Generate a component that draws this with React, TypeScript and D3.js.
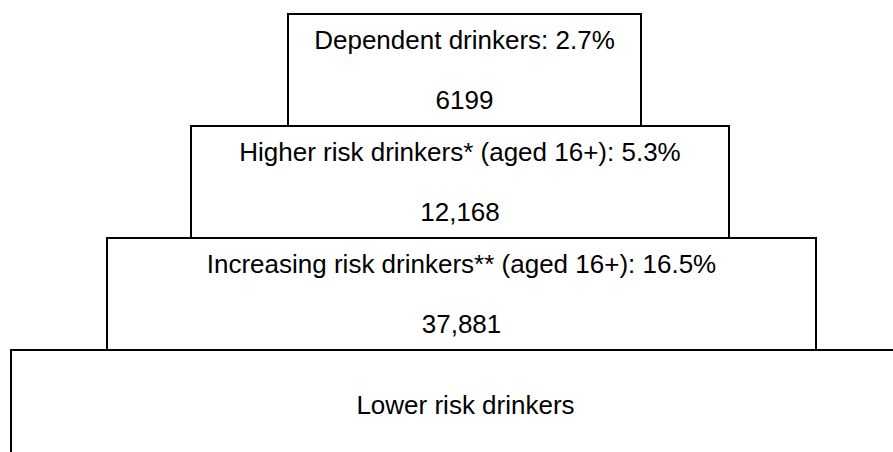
import React from "react";
import * as d3 from "d3";

const tiers = ["Dependent drinkers", "Higher risk drinkers* (aged 16+)", "Increasing risk drinkers** (aged 16+)", "Lower risk drinkers"];
const percents: (number | null)[] = [2.7, 5.3, 16.5, null];
const counts: (string | null)[] = ["6199", "12,168", "37,881", null];

// layout (pixels)
const boxLeft = [288, 191, 107, 11];
const boxRight = [641, 729, 816, 920];

export default function App() {
  const W = 893, H = 452;
  const y = d3.scaleBand<number>().domain(d3.range(tiers.length)).range([14, 14 + 112 * 4]).paddingInner(0);
  const bw = y.bandwidth();
  const fs = 26;
  return (
    <svg width={W} height={H} style={{ position: "absolute", left: 0, top: 0, background: "#fff" }}
      fontFamily="'Liberation Sans', Arial, sans-serif">
      {tiers.map((t, i) => {
        const top = y(i)!;
        const h = i === 3 ? 200 : bw;
        return (
          <rect key={i} x={boxLeft[i]} y={top} width={boxRight[i] - boxLeft[i]} height={h}
            fill="#fff" stroke="#000" strokeWidth={2} />
        );
      })}
      {tiers.map((t, i) => {
        const top = y(i)!;
        const cx = (boxLeft[i] + boxRight[i]) / 2;
        const label = percents[i] != null ? `${t}: ${percents[i]}%` : t;
        return (
          <g key={"t" + i}>
            <text x={cx} y={i === 3 ? top + 64 : top + 35} textAnchor="middle" fontSize={fs} fill="#000">{label}</text>
            {counts[i] && (
              <text x={cx} y={top + 95} textAnchor="middle" fontSize={fs} fill="#000">{counts[i]}</text>
            )}
          </g>
        );
      })}
    </svg>
  );
}
